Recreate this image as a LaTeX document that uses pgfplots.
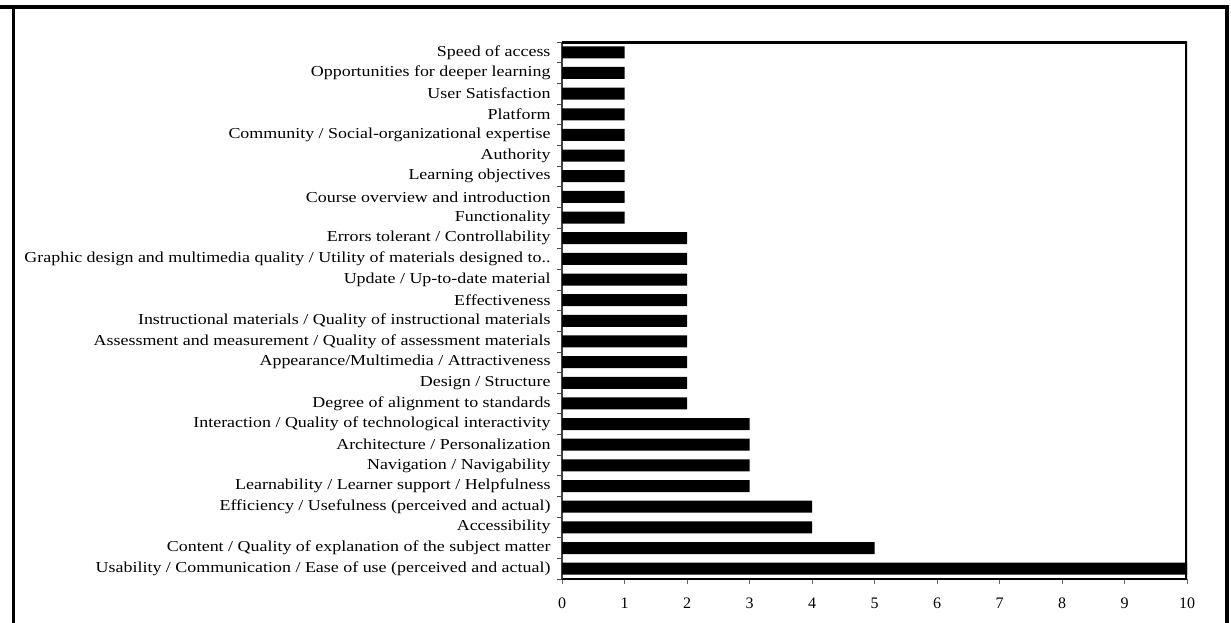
\documentclass[border=0pt]{standalone}
\usepackage{pgfplots}
\pgfplotsset{compat=1.18}
\usepackage{fontspec}
\setmainfont{Liberation Serif}
\newfontfamily\lblfont{Liberation Serif}[FakeStretch=1.18]
\begin{document}
\begin{tikzpicture}[x=1pt,y=1pt]
\path[use as bounding box] (0,0) rectangle (1231,623);
% outer frame of the figure box
\draw[line width=4pt] (0,616) -- (1229,616);
\draw[line width=3.5pt] (13.5,616) -- (13.5,0);
\draw[line width=4pt] (1227,616) -- (1227,0);
\begin{axis}[
  at={(562pt,44pt)}, anchor=south west,
  scale only axis, width=625pt, height=537pt,
  xbar, bar width=12pt,
  xmin=0, xmax=10, ymin=-0.5, ymax=25.5,
  axis x line*=bottom, axis y line*=left,
  x axis line style={line width=2.8pt},
  y axis line style={line width=1.4pt, black!75},
  xtick={0,...,10},
  x tick style={black!60, line width=0.6pt},
  xtick align=outside, major tick length=5pt,
  ytick={0,...,25},
  y tick style={draw=none},
  extra y ticks={-0.5,0.5,...,25.5},
  extra y tick labels={},
  extra y tick style={y tick style={draw=black!70, line width=0.6pt}, tick align=outside},
  yticklabels={
    {Usability / Communication / Ease of use (perceived and actual)},
    {Content / Quality of explanation of the subject matter},
    {Accessibility},
    {Efficiency / Usefulness (perceived and actual)},
    {Learnability / Learner support / Helpfulness},
    {Navigation / Navigability},
    {Architecture / Personalization},
    {Interaction / Quality of technological interactivity},
    {Degree of alignment to standards},
    {Design / Structure},
    {Appearance/Multimedia / Attractiveness},
    {Assessment and measurement / Quality of assessment materials},
    {Instructional materials / Quality of instructional materials},
    {Effectiveness},
    {Update / Up-to-date material},
    {Graphic design and multimedia quality / Utility of materials designed to..},
    {Errors tolerant / Controllability},
    {Functionality},
    {Course overview and introduction},
    {Learning objectives},
    {Authority},
    {Community /  Social-organizational expertise},
    {Platform},
    {User Satisfaction},
    {Opportunities for deeper learning},
    {Speed of access}},
  yticklabel style={font=\lblfont\fontsize{15.2}{17}\selectfont, xshift=-3pt},
  xticklabel style={font=\fontsize{16}{18}\selectfont, yshift=-10pt},
  /pgf/number format/assume math mode=true,
]
\addplot[fill=black, draw=none] coordinates {
  (10,0) (5,1) (4,2) (4,3) (3,4) (3,5) (3,6) (3,7)
  (2,8) (2,9) (2,10) (2,11) (2,12) (2,13) (2,14) (2,15) (2,16)
  (1,17) (1,18) (1,19) (1,20) (1,21) (1,22) (1,23) (1,24) (1,25)};
\draw[line width=4.5pt] (rel axis cs:0,1) -- (rel axis cs:1,1) -- (rel axis cs:1,0);
\end{axis}
\end{tikzpicture}
\end{document}
